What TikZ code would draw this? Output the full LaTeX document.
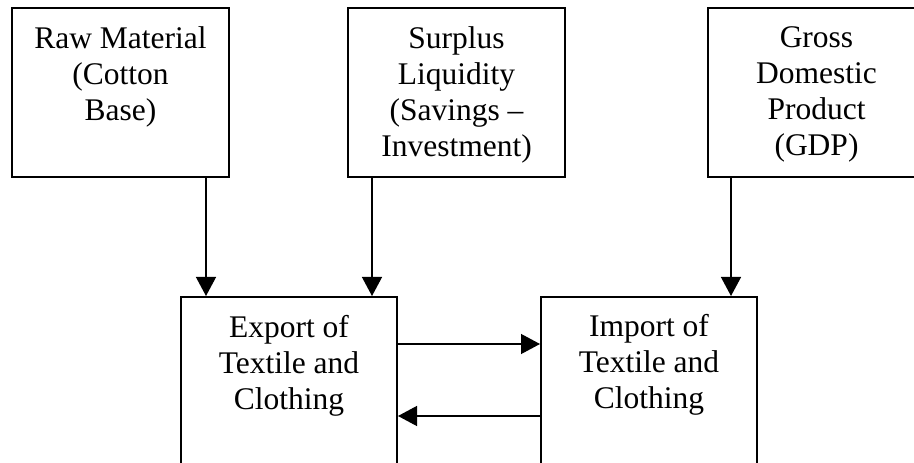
\documentclass[tikz,border=0pt]{standalone}
\usepackage{fontspec}
\setmainfont{Liberation Serif}
\usetikzlibrary{arrows.meta,positioning}

\begin{document}
\begin{tikzpicture}[x=1bp, y=-1bp, >={Triangle[length=19bp,width=20bp]}]
    % Styles
    \tikzset{
        factor/.style={draw, line width=2bp, minimum width=217bp, minimum height=169bp, inner sep=0pt},
        trade/.style={factor, minimum width=216bp, minimum height=200bp},
        boxtext/.style={align=center, inner sep=0pt, font=\fontsize{31.5bp}{36bp}\selectfont},
        link/.style={->, line width=1.3bp}
    }
    \useasboundingbox (0,0) rectangle (914,463);
    \clip (0,0) rectangle (914,463);

    % Determinants (top row)
    \node[factor] (raw) at (120.5, 92.5) {};
    \node[factor] (surplus) at (456.5, 92.5) {};
    \node[factor] (gdp) at (816.5, 92.5) {};

    \node[boxtext, below=19.5bp of raw.north] (rawtxt) {Raw Material\\(Cotton\\Base)};
    \node[boxtext, below=19.5bp of surplus.north] (surplustxt) {Surplus\\Liquidity\\(Savings –\\Investment)};
    \node[boxtext, below=19.5bp of gdp.north] (gdptxt) {Gross\\Domestic\\Product\\(GDP)};

    % Trade flows (bottom row)
    \node[trade] (export) at (289, 397) {};
    \node[trade] (import) at (649, 397) {};

    \node[boxtext, below=19.5bp of export.north] (exporttxt) {Export of\\Textile and\\Clothing};
    \node[boxtext, below=18bp of import.north] (importtxt) {Import of\\Textile and\\Clothing};

    % Connectors
    \draw[link] ([xshift=-24bp]raw.south east) -- ([xshift=-24bp]raw.south east |- export.north);
    \draw[link] ([xshift=25bp]surplus.south west) -- ([xshift=25bp]surplus.south west |- export.north);
    \draw[link] ([xshift=24bp]gdp.south west) -- ([xshift=24bp]gdp.south west |- import.north);

    \draw[link] ([yshift=-48bp]export.north east) -- ([yshift=-48bp]export.north east -| import.west);
    \draw[link] ([yshift=-120bp]import.north west) -- ([yshift=-120bp]import.north west -| export.east);
\end{tikzpicture}
\end{document}
